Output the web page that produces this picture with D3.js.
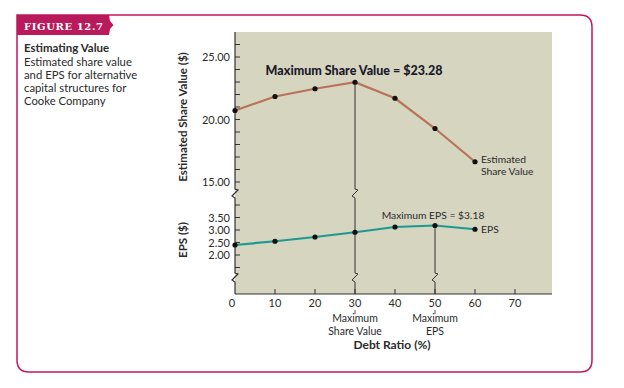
<!DOCTYPE html>
<html><head><meta charset="utf-8">
<script src="https://cdn.jsdelivr.net/npm/d3@7"></script>
<style>body{margin:0;background:#fff}svg{display:block}</style>
</head><body>
<svg id="c" width="624" height="388"></svg>
<script>
const debtRatio = [0, 10, 20, 30, 40, 50, 60];
const shareValue = [20.72, 21.84, 22.46, 22.98, 21.70, 19.28, 16.62];
const eps = [2.40, 2.55, 2.72, 2.91, 3.12, 3.18, 3.03];
const xTicks = [0, 10, 20, 30, 40, 50, 60, 70];
const svTicks = [15, 16, 17, 18, 19, 20, 21, 22, 23, 24, 25, 26];
const svLabels = [15, 20, 25];
const epsTicks = [1.5, 2.0, 2.5, 3.0, 3.5, 4.0];
const epsLabels = [2.0, 2.5, 3.0, 3.5];
const maxSV = {x: 30, label: "Maximum Share Value = $23.28"};
const maxEPS = {x: 50, label: "Maximum EPS = $3.18"};

const svg = d3.select("#c");
const magenta = "#c2185f";
const font = "Lato, 'Open Sans', sans-serif";
const txt = "#2b2b2b";

const x = d3.scaleLinear().domain([0, 70]).range([235, 515]);
const ySV = d3.scaleLinear().domain([15, 25]).range([182, 57]);
const yE = d3.scaleLinear().domain([2, 3.5]).range([255, 217.5]);
const plotTop = 32, plotBottom = 294, plotRight = 552;
const brk1 = 194, brk2 = 278;

// frame
svg.append("path")
  .attr("d", `M17,15 H580 Q592,15 592,27 V360 Q592,372 580,372 H29 Q17,372 17,360 Z`)
  .attr("fill", "none").attr("stroke", magenta).attr("stroke-width", 1.5);
// tab
svg.append("path")
  .attr("d", `M17,15 H109 L110,21 L113.5,25 L110,29 L109,35 H17 Z`)
  .attr("fill", "#b81a5b");
svg.append("text").attr("x", 24).attr("y", 29.5)
  .attr("font-family", "'DejaVu Serif', serif").attr("font-weight", "bold")
  .attr("font-size", 10).attr("textLength", 79).attr("lengthAdjust", "spacing")
  .attr("fill", "#fff")
  .text("FIGURE 12.7");

// side text
svg.append("text").attr("x", 24).attr("y", 52)
  .attr("font-family", font).attr("font-weight", "bold").attr("font-size", 11.5)
  .attr("fill", txt).text("Estimating Value");
["Estimated share value", "and EPS for alternative", "capital structures for", "Cooke Company"]
  .forEach((t, i) => svg.append("text").attr("x", 24).attr("y", 65.5 + i * 13.2)
    .attr("font-family", font).attr("font-size", 11.3).attr("fill", txt).text(t));

// plot background
svg.append("rect").attr("x", x(0)).attr("y", plotTop)
  .attr("width", plotRight - x(0)).attr("height", plotBottom - plotTop)
  .attr("fill", "#d6d5c0");

function zig(px, py) {
  return `L${px},${py - 5} L${px + 3},${py - 4} L${px - 3},${py + 2} L${px},${py + 4}`;
}

// y axis with breaks
const ax = x(0);
svg.append("path")
  .attr("d", `M${ax},${plotTop} ${zig(ax, brk1)} ${zig(ax, brk2)} L${ax},${plotBottom}`)
  .attr("fill", "none").attr("stroke", "#333").attr("stroke-width", 1.2);
// x axis
svg.append("line").attr("x1", ax).attr("x2", plotRight).attr("y1", plotBottom).attr("y2", plotBottom)
  .attr("stroke", "#333").attr("stroke-width", 1.2);

// ticks
svg.append("g").selectAll("line").data(svTicks).join("line")
  .attr("x1", ax).attr("x2", ax + 5).attr("y1", d => ySV(d)).attr("y2", d => ySV(d))
  .attr("stroke", "#333");
svg.append("g").selectAll("line").data(epsTicks).join("line")
  .attr("x1", ax).attr("x2", ax + 5).attr("y1", d => yE(d)).attr("y2", d => yE(d))
  .attr("stroke", "#333");
svg.append("g").selectAll("line").data(xTicks.slice(1)).join("line")
  .attr("x1", d => x(d)).attr("x2", d => x(d)).attr("y1", plotBottom).attr("y2", plotBottom - 5)
  .attr("stroke", "#333");

// tick labels
svg.append("g").selectAll("text").data(svLabels).join("text")
  .attr("x", ax - 5).attr("y", d => ySV(d) + 4).attr("text-anchor", "end")
  .attr("font-family", font).attr("font-size", 11).attr("fill", txt)
  .text(d => d.toFixed(2));
svg.append("g").selectAll("text").data(epsLabels).join("text")
  .attr("x", ax - 5).attr("y", d => yE(d) + 4).attr("text-anchor", "end")
  .attr("font-family", font).attr("font-size", 11).attr("fill", txt)
  .text(d => d.toFixed(2));
svg.append("g").selectAll("text").data(xTicks).join("text")
  .attr("x", d => x(d) - (d === 0 ? 3 : 0)).attr("y", 307).attr("text-anchor", "middle")
  .attr("font-family", font).attr("font-size", 11).attr("fill", txt)
  .text(d => d);

// axis titles
svg.append("text").attr("transform", `translate(187,${117}) rotate(-90)`)
  .attr("text-anchor", "middle").attr("font-family", font).attr("font-weight", "bold")
  .attr("font-size", 11.5).attr("fill", txt).text("Estimated Share Value ($)");
svg.append("text").attr("transform", `translate(187,${240}) rotate(-90)`)
  .attr("text-anchor", "middle").attr("font-family", font).attr("font-weight", "bold")
  .attr("font-size", 11.5).attr("fill", txt).text("EPS ($)");
svg.append("text").attr("x", 392).attr("y", 349).attr("text-anchor", "middle")
  .attr("font-family", font).attr("font-weight", "bold").attr("font-size", 12)
  .attr("fill", txt).text("Debt Ratio (%)");

// max vertical lines
const svIdx = debtRatio.indexOf(maxSV.x), eIdx = debtRatio.indexOf(maxEPS.x);
const vx1 = x(maxSV.x), vx2 = x(maxEPS.x);
svg.append("path")
  .attr("d", `M${vx1},${ySV(shareValue[svIdx])} ${zig(vx1, brk1)} ${zig(vx1, brk2)} L${vx1},${plotBottom}`)
  .attr("fill", "none").attr("stroke", "#333").attr("stroke-width", 1);
svg.append("path")
  .attr("d", `M${vx2},${yE(eps[eIdx])} ${zig(vx2, brk2)} L${vx2},${plotBottom}`)
  .attr("fill", "none").attr("stroke", "#333").attr("stroke-width", 1);
[vx1, vx2].forEach(v => svg.append("line").attr("x1", v).attr("x2", v)
  .attr("y1", 310).attr("y2", 314).attr("stroke", "#555"));

// x annotation labels
[["Maximum", "Share Value", vx1], ["Maximum", "EPS", vx2]].forEach(([a, b, v]) => {
  svg.append("text").attr("x", v).attr("y", 322).attr("text-anchor", "middle")
    .attr("font-family", font).attr("font-size", 10.5).attr("fill", txt).text(a);
  svg.append("text").attr("x", v).attr("y", 335).attr("text-anchor", "middle")
    .attr("font-family", font).attr("font-size", 10.5).attr("fill", txt).text(b);
});

// lines
const lineSV = d3.line().x((d, i) => x(debtRatio[i])).y(d => ySV(d));
const lineE = d3.line().x((d, i) => x(debtRatio[i])).y(d => yE(d));
svg.append("path").attr("d", lineSV(shareValue)).attr("fill", "none")
  .attr("stroke", "#b8735a").attr("stroke-width", 2.2);
svg.append("path").attr("d", lineE(eps)).attr("fill", "none")
  .attr("stroke", "#1c9990").attr("stroke-width", 2.2);
svg.append("g").selectAll("circle").data(shareValue).join("circle")
  .attr("cx", (d, i) => x(debtRatio[i])).attr("cy", d => ySV(d)).attr("r", 2.6).attr("fill", "#111");
svg.append("g").selectAll("circle").data(eps).join("circle")
  .attr("cx", (d, i) => x(debtRatio[i])).attr("cy", d => yE(d)).attr("r", 2.6).attr("fill", "#111");

// annotations
svg.append("text").attr("x", 354).attr("y", 75).attr("text-anchor", "middle")
  .attr("font-family", font).attr("font-weight", "900").attr("font-size", 12.5)
  .attr("fill", "#1a1a2a").text(maxSV.label);
svg.append("text").attr("x", 433).attr("y", 219).attr("text-anchor", "middle")
  .attr("font-family", font).attr("font-size", 10.3).attr("fill", txt).text(maxEPS.label);
const last = debtRatio.length - 1;
svg.append("text").attr("x", x(debtRatio[last]) + 6).attr("y", ySV(shareValue[last]) + 1)
  .attr("font-family", font).attr("font-size", 10.3).attr("fill", txt).text("Estimated");
svg.append("text").attr("x", x(debtRatio[last]) + 6).attr("y", ySV(shareValue[last]) + 13.5)
  .attr("font-family", font).attr("font-size", 10.3).attr("fill", txt).text("Share Value");
svg.append("text").attr("x", x(debtRatio[last]) + 6).attr("y", yE(eps[last]) + 3.5)
  .attr("font-family", font).attr("font-size", 10.3).attr("fill", txt).text("EPS");
</script>
</body></html>
